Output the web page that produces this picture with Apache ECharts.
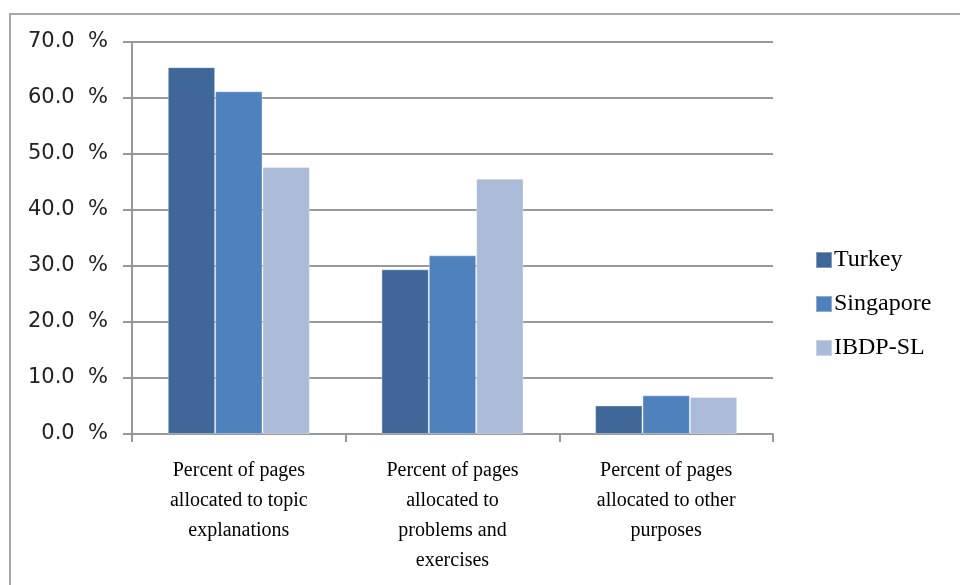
<!DOCTYPE html>
<html>
<head>
<meta charset="utf-8">
<script src="https://cdn.jsdelivr.net/npm/echarts@6/dist/echarts.min.js"></script>
<style>
  html, body { margin: 0; padding: 0; background: #ffffff; }
  #chart { width: 960px; height: 585px; }
</style>
</head>
<body>
<div id="chart"></div>
<script>
// Share of textbook pages by purpose, per curriculum
const categories = [
  'Percent of pages\nallocated to topic\nexplanations',
  'Percent of pages\nallocated to\nproblems and\nexercises',
  'Percent of pages\nallocated to other\npurposes'
];
const seriesNames = ['Turkey', 'Singapore', 'IBDP-SL'];
const turkey = [65.5, 29.4, 5.1];
const singapore = [61.2, 31.9, 6.9];
const ibdpSl = [47.7, 45.6, 6.6];
const seriesColors = ['#3f6899', '#4f81bd', '#aabad7'];

const values = [turkey, singapore, ibdpSl];

const chart = echarts.init(document.getElementById('chart'), null, { renderer: 'canvas' });

const gridLine = { color: '#999999', width: 2 };

chart.setOption({
  animation: false,
  backgroundColor: '#ffffff',
  graphic: [{
    type: 'rect',
    shape: { x: 10, y: 14, width: 980, height: 620 },
    style: { fill: 'none', stroke: '#a8a8a8', lineWidth: 2 },
    silent: true
  }],
  grid: { left: 132, right: 187, top: 42, bottom: 151, containLabel: false },
  legend: {
    orient: 'vertical',
    left: 815,
    top: 248,
    padding: 0,
    itemWidth: 16,
    itemHeight: 16,
    itemGap: 20,
    icon: 'rect',
    textStyle: {
      fontFamily: '"Liberation Serif", "Times New Roman", serif',
      fontSize: 24,
      lineHeight: 24,
      color: '#000000',
      padding: [0, 0, 0, -3]
    },
    data: seriesNames
  },
  xAxis: {
    type: 'category',
    data: categories,
    boundaryGap: true,
    axisLine: { show: true, lineStyle: gridLine },
    axisTick: { show: true, alignWithLabel: false, length: 8, lineStyle: gridLine },
    axisLabel: {
      interval: 0,
      margin: 22,
      fontFamily: '"Liberation Serif", "Times New Roman", serif',
      fontSize: 20,
      lineHeight: 30,
      color: '#000000',
      align: 'center'
    },
    splitLine: { show: false }
  },
  yAxis: {
    type: 'value',
    min: 0,
    max: 70,
    interval: 10,
    axisLine: { show: true, lineStyle: gridLine },
    axisTick: { show: true, length: 9, lineStyle: gridLine },
    axisLabel: {
      margin: 24,
      fontFamily: '"DejaVu Sans", sans-serif',
      fontSize: 21,
      color: '#222222',
      formatter: v => v.toFixed(1) + '  %'
    },
    splitLine: { show: true, lineStyle: gridLine }
  },
  series: seriesNames.map((name, i) => ({
    name: name,
    type: 'bar',
    data: values[i],
    barGap: '0%',
    barCategoryGap: '33.5%',
    itemStyle: {
      color: seriesColors[i],
      borderColor: 'rgba(255,255,255,0.35)',
      borderWidth: 1
    }
  }))
});
</script>
</body>
</html>
